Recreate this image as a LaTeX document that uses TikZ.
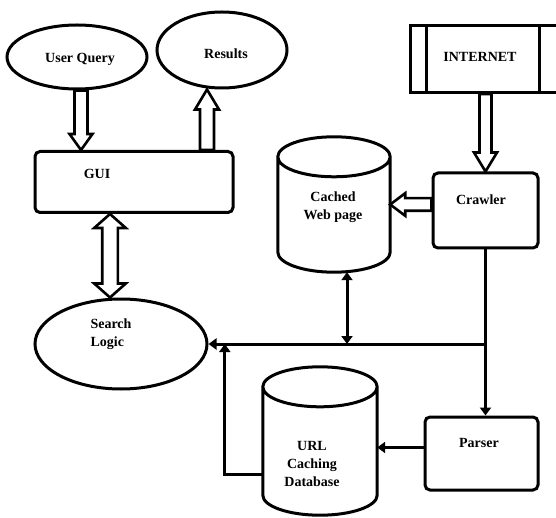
\documentclass[tikz,border=0pt]{standalone}
\usepackage{fontspec}
\setmainfont{Liberation Serif}
\usetikzlibrary{positioning}
\usetikzlibrary{calc}
\usetikzlibrary{arrows.meta}
\usetikzlibrary{shapes.geometric}

% angle and length from #1 to #2
\newcommand{\arrowframe}[2]{%
  \path let \p1=(#1), \p2=(#2) in
    \pgfextra{\pgfmathsetmacro\tmpang{atan2(\y2-\y1,\x2-\x1)}\xdef\baang{\tmpang}%
      \pgfmathsetmacro\tmplen{veclen(\x2-\x1,\y2-\y1)}\xdef\balen{\tmplen}}
    (\p1) coordinate (batail);}
% hollow block arrow: tail, tip, shaft, head, head length
\newcommand{\blockarrow}[5]{%
  \arrowframe{#1}{#2}
  \begin{scope}[shift={(batail)}, rotate=\baang]
    \draw[hollow] (0pt,-#3) -- ({\balen pt-#5},-#3) -- ({\balen pt-#5},-#4) -- ({\balen pt},0pt)
      -- ({\balen pt-#5},#4) -- ({\balen pt-#5},#3) -- (0pt,#3) -- cycle;
  \end{scope}}
% same, heads on both ends
\newcommand{\blockarrows}[5]{%
  \arrowframe{#1}{#2}
  \begin{scope}[shift={(batail)}, rotate=\baang]
    \draw[hollow] (#5,-#3) -- ({\balen pt-#5},-#3) -- ({\balen pt-#5},-#4) -- ({\balen pt},0pt)
      -- ({\balen pt-#5},#4) -- ({\balen pt-#5},#3) -- (#5,#3) -- (#5,#4) -- (0pt,0pt) -- (#5,-#4) -- cycle;
  \end{scope}}
% database drum round a node: node, cap radius
\newcommand{\drum}[2]{%
  \draw[line width=3pt] let \p1=(#1.north west), \p2=(#1.south east), \n1={(\x2-\x1)/2} in
    (\x1,\y1-#2pt) -- (\x1,\y2+#2pt) arc[start angle=180, end angle=360, x radius=\n1, y radius=#2pt]
    -- (\x2,\y1-#2pt) arc[start angle=0, end angle=180, x radius=\n1, y radius=#2pt]
    arc[start angle=180, end angle=360, x radius=\n1, y radius=#2pt];}

\begin{document}
\begin{tikzpicture}[x=1pt,y=-1pt,
  box/.style={draw, line width=3pt, rounded corners=5pt, inner sep=0pt},
  oval/.style={draw, ellipse, line width=3pt, inner sep=0pt},
  db/.style={inner sep=0pt},
  conn/.style={line width=3pt, -{Triangle[length=8pt,width=11pt]}},
  hollow/.style={line width=2.6pt, line join=miter, fill=white},
  lbl/.style={font=\fontsize{14}{18}\selectfont\bfseries, align=center, inner sep=0pt}]
  \useasboundingbox (0,0) rectangle (556,518);
  \clip (0,0) rectangle (556,518);

  % Shapes
  \node[oval, minimum width=140, minimum height=64] (uq) at (77,57) {};
  \node[oval, minimum width=130, minimum height=76] (results) at (222,50) {};
  \node[box, minimum width=198, minimum height=61] (gui) at (134,182) {};
  \node[oval, minimum width=172, minimum height=90] (search) at (121,344) {};
  \node[draw, line width=3pt, inner sep=0pt, minimum width=160, minimum height=67] (inet) at (490,59) {};
  \draw[line width=3pt] ($(inet.north west)+(18,0)$) -- ($(inet.south west)+(18,0)$);
  \draw[line width=3pt] (539,25) -- (539,92);
  \node[box, minimum width=105, minimum height=75] (crawler) at (485.5,210.5) {};
  \node[db, minimum width=112, minimum height=135] (cached) at (334,204.5) {};
  \drum{cached}{20}
  \node[box, minimum width=113, minimum height=73] (parser) at (481.5,453.5) {};
  \node[db, minimum width=114, minimum height=148] (url) at (320,441) {};
  \drum{url}{20}

  % Texts
  \node[lbl] (uqtext) at (80,59) {User Query};
  \node[lbl] (restext) at (226,54) {Results};
  \node[lbl] (guitext) at (97,174) {GUI};
  \node[lbl, align=left] (searchtext) at (111,334) {Search\\Logic};
  \node[lbl] (inettext) at (480,57) {INTERNET};
  \node[lbl] (crawltext) at (481,200) {Crawler};
  \node[lbl] (cachedtext) at (333,207) {Cached\\Web page};
  \node[lbl] (parsetext) at (479,443) {Parser};
  \node[lbl] (urltext) at (312,464) {URL\\Caching\\Database};

  % Block arrows
  \coordinate (uqarr) at ($(uq.south)+(4,0)$);
  \blockarrow{uqarr}{uqarr |- gui.north}{6.5pt}{11.5pt}{16pt}
  \coordinate (resarr) at ($(results.south)+(-15,0)$);
  \blockarrow{resarr |- gui.north}{resarr}{7pt}{12pt}{20pt}
  \coordinate (gsarr) at ($(search.north)+(-11,0)$);
  \blockarrows{gsarr |- gui.south}{gsarr}{7.8pt}{15.8pt}{14pt}
  \blockarrow{crawler.north |- inet.south}{crawler.north}{6pt}{11.5pt}{19pt}
  \blockarrow{cached.east -| crawler.west}{cached.east}{6.3pt}{11.3pt}{15pt}

  % Connectors
  \coordinate (bus) at (crawler.south |- search.east);
  \draw[conn] (crawler.south) -- (crawler.south |- parser.north);
  \draw[conn] (bus) -- (search.east);
  \coordinate (cbus) at ($(cached.south)+(13,0)$);
  \draw[conn, {Triangle[length=8pt,width=11pt]}-{Triangle[length=8pt,width=11pt]}] (cbus) -- (cbus |- bus);
  \coordinate (parsout) at ($(parser.west)+(0,-6)$);
  \draw[conn] (parsout) -- (parsout -| url.east);
  \coordinate (urlout) at ($(url.west)+(0,33)$);
  \draw[conn] (urlout) -- ++(-38,0) coordinate (urlcorner) -- (urlcorner |- bus);
\end{tikzpicture}
\end{document}
